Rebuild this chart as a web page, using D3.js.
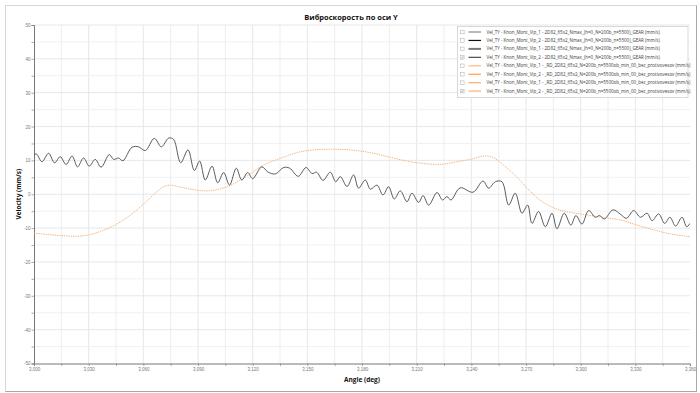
<!DOCTYPE html>
<html>
<head>
<meta charset="utf-8">
<script src="https://cdn.jsdelivr.net/npm/d3@7"></script>
<style>
  html, body { margin: 0; padding: 0; background: #fff; }
  svg { display: block; font-family: "Open Sans", "DejaVu Sans", sans-serif; }
</style>
</head>
<body>
<svg id="chart" width="700" height="393"></svg>
<script>
// ── Data ──────────────────────────────────────────────────────────────────────

const chartTitle = 'Виброскорость по оси Y';
const xTitle = 'Angle (deg)';
const yTitle = 'Velocity (mm/s)';

const xTicks = [3000, 3030, 3060, 3090, 3120, 3150, 3180, 3210, 3240, 3270, 3300, 3330, 3360];
const yTicks = [50, 40, 30, 20, 10, 0, -10, -20, -30, -40, -50];

// Vel_TY - Vip_2 GEAR (dark, checked)
const gearAngle = [3000, 3001.3, 3004.4, 3008.0, 3011.3, 3014.4, 3017.6, 3020.9, 3023.9, 3027.2,
  3030.3, 3033.6, 3036.8, 3041.3, 3043.7, 3046.4, 3048.8, 3053.8, 3057.4, 3061.1,
  3066.0, 3069.9, 3073.9, 3076.6, 3080.5, 3084.5, 3088.0, 3090.9, 3094.0, 3097.7,
  3100.8, 3104.1, 3107.3, 3111.0, 3114.0, 3117.3, 3120.0, 3125.0, 3128.3, 3132.4,
  3137.0, 3140.3, 3145.0, 3149.3, 3152.6, 3155.1, 3158.6, 3162.6, 3165.6, 3168.1,
  3171.8, 3175.4, 3178.1, 3181.8, 3184.6, 3188.2, 3191.5, 3194.6, 3197.7, 3201.0,
  3204.7, 3207.4, 3211.1, 3213.5, 3216.6, 3221.2, 3224.2, 3226.6, 3228.8, 3233.9,
  3240.9, 3246.4, 3249.5, 3253.2, 3256.8, 3260.5, 3264.1, 3267.8, 3270.9, 3273.3,
  3276.9, 3280.6, 3284.3, 3287.0, 3291.0, 3294.6, 3297.4, 3300.7, 3304.4, 3308.0,
  3310.4, 3313.0, 3317.8, 3321.8, 3325.1, 3329.1, 3332.8, 3336.4, 3339.2, 3342.8,
  3346.1, 3349.0, 3352.1, 3355.6, 3358.2, 3360];
const gearVel = [11.6, 11.9, 9.6, 12.1, 9.3, 11.1, 8.8, 11.3, 8.1, 10.7,
  8.3, 10.3, 8.0, 11.7, 10.3, 10.7, 9.9, 13.9, 14.0, 12.9,
  16.5, 14.0, 16.6, 16.2, 9.3, 13.1, 7.0, 9.8, 4.2, 8.3,
  3.4, 6.4, 2.7, 7.7, 4.2, 6.4, 4.6, 8.1, 6.6, 6.0,
  7.9, 7.7, 5.3, 7.9, 6.1, 6.5, 4.1, 6.5, 3.7, 5.2,
  2.3, 5.7, 1.8, 4.2, 1.5, 2.7, -0.2, 2.2, -1.4, 1.0,
  -2.2, 0.3, -2.4, -0.4, -3.2, 0.5, -1.7, -0.7, -1.7, 1.9,
  0.6, 3.9, 1.8, 3.7, 3.7, -3.2, 0.3, -5.6, -3.2, -8.6,
  -5.1, -9.6, -5.6, -10.2, -5.6, -9.1, -6.3, -8.8, -4.8, -6.8,
  -6.3, -7.3, -4.6, -5.9, -7.1, -4.8, -6.8, -5.6, -7.8, -5.8,
  -8.6, -6.8, -9.4, -6.8, -9.6, -8.6];

// Vel_TY - Vip_2 _RD (pale orange, checked)
const rdAngle = [3000, 3014.4, 3023.6, 3029.4, 3036.4, 3044.8, 3053.0, 3060.1, 3067.5, 3071.1,
  3074.8, 3083.0, 3094.9, 3105.9, 3113.2, 3116.9, 3126.0, 3135.2, 3144.3, 3153.4,
  3164.4, 3173.6, 3184.6, 3195.6, 3206.6, 3217.6, 3224.8, 3232.1, 3239.4, 3247.6,
  3252.2, 3257.7, 3265.1, 3272.4, 3279.7, 3287.0, 3294.6, 3303.5, 3312.6, 3321.8,
  3330.9, 3340.0, 3349.1, 3360];
const rdVel = [-11.5, -12.2, -12.4, -12.1, -11.0, -9.0, -6.1, -2.9, 0.8, 2.2,
  2.7, 1.8, 1.0, 2.2, 4.2, 5.4, 8.6, 10.6, 12.3, 13.1,
  13.3, 13.1, 12.3, 10.9, 9.6, 8.9, 8.9, 9.6, 10.3, 11.3,
  10.8, 8.6, 5.0, 0.8, -2.5, -4.4, -5.4, -6.1, -6.9, -7.6,
  -9.1, -10.5, -11.7, -12.5];

const legendNames = [
  'Vel_TY - Knon_Mont_Vip_1 - 2D82_65x2_Nmax_(h=0_N=200b_n=5500)_GEAR (mm/s)',
  'Vel_TY - Knon_Mont_Vip_2 - 2D82_65x2_Nmax_(h=0_N=200b_n=5500)_GEAR (mm/s)',
  'Vel_TY - Knon_Mont_Vip_1 - 2D82_65x2_Nmax_(h=0_N=200b_n=5500)_GEAR (mm/s)',
  'Vel_TY - Knon_Mont_Vip_2 - 2D82_65x2_Nmax_(h=0_N=200b_n=5500)_GEAR (mm/s)',
  'Vel_TY - Knon_Mont_Vip_1 - _RD_2D82_65x2_N=200b_n=5500ob_min_00_bez_protivovesov (mm/s)',
  'Vel_TY - Knon_Mont_Vip_2 - _RD_2D82_65x2_N=200b_n=5500ob_min_00_bez_protivovesov (mm/s)',
  'Vel_TY - Knon_Mont_Vip_1 - _RD_2D82_65x2_N=200b_n=5500ob_min_00_bez_protivovesov (mm/s)',
  'Vel_TY - Knon_Mont_Vip_2 - _RD_2D82_65x2_N=200b_n=5500ob_min_00_bez_protivovesov (mm/s)'
];
const legendChecked = [false, false, false, true, false, false, false, true];
const legendColors = ['#8a8a8a', '#111111', '#7a7a7a', '#4a4a4a', '#ffb77a', '#ff9d45', '#ffaa66', '#f7cfae'];
const legendWidths = [1.2, 1.2, 2, 1.2, 1.2, 1.2, 1.2, 2];

// ── Layout ────────────────────────────────────────────────────────────────────

const svg = d3.select('#chart');
const plot = { left: 34, right: 690, top: 25, bottom: 363.5 };

const x = d3.scaleLinear().domain([3000, 3360]).range([plot.left, plot.right]);
const y = d3.scaleLinear().domain([-50, 50]).range([plot.bottom, plot.top]);

// outer frame
svg.append('rect')
  .attr('x', 5.5).attr('y', 5.5).attr('width', 691).attr('height', 386)
  .attr('fill', '#fff').attr('stroke', '#d6d6d6');
svg.append('path')
  .attr('d', 'M5.5,391.5H696.5V5.5')
  .attr('fill', 'none').attr('stroke', '#a8a8a8');

// ── Grid ──────────────────────────────────────────────────────────────────────

const gridG = svg.append('g');
gridG.selectAll('.vg')
  .data(d3.range(3015, 3360, 15))
  .join('line')
  .attr('x1', d => x(d)).attr('x2', d => x(d))
  .attr('y1', plot.top).attr('y2', plot.bottom)
  .attr('stroke', d => d % 30 === 0 ? '#e4e4e4' : '#ececec')
  .attr('stroke-width', 0.9);
gridG.selectAll('.hg')
  .data(d3.range(-45, 55, 5))
  .join('line')
  .attr('x1', plot.left).attr('x2', plot.right)
  .attr('y1', d => y(d)).attr('y2', d => y(d))
  .attr('stroke', d => d % 10 === 0 ? '#e4e4e4' : '#efefef')
  .attr('stroke-width', 0.9);

// ── Axes ──────────────────────────────────────────────────────────────────────

const xAxis = d3.axisBottom(x)
  .tickValues(d3.range(3000, 3361, 15))
  .tickSize(2.5)
  .tickFormat(d => xTicks.includes(d) ? d3.format(',')(d) : '');
const yAxis = d3.axisLeft(y)
  .tickValues(d3.range(-50, 51, 5))
  .tickSize(2.5)
  .tickFormat(d => yTicks.includes(d) ? d : '');

const gx = svg.append('g').attr('transform', `translate(0,${plot.bottom})`).call(xAxis);
const gy = svg.append('g').attr('transform', `translate(${plot.left},0)`).call(yAxis);

[gx, gy].forEach(ax => {
  ax.select('.domain').attr('stroke', '#777').attr('stroke-width', 1);
  ax.selectAll('.tick line').attr('stroke', '#888').attr('stroke-width', 0.7);
  ax.selectAll('.tick text').attr('fill', '#777').attr('font-size', 4.5);
});
gx.selectAll('.tick text').attr('dy', '0.9em').attr('y', 3.5);
gy.selectAll('.tick text').attr('x', -3.5);

// titles
svg.append('text')
  .attr('x', 351).attr('y', 20)
  .attr('text-anchor', 'middle')
  .attr('font-size', 7.5).attr('font-weight', 'bold').attr('fill', '#111')
  .text(chartTitle);

svg.append('text')
  .attr('x', 362).attr('y', 382)
  .attr('text-anchor', 'middle')
  .attr('font-size', 6.5).attr('font-weight', 'bold').attr('fill', '#111')
  .text(xTitle);

svg.append('text')
  .attr('transform', `translate(21,${(plot.top + plot.bottom) / 2}) rotate(-90)`)
  .attr('text-anchor', 'middle')
  .attr('font-size', 6.5).attr('font-weight', 'bold').attr('fill', '#111')
  .text(yTitle);

// ── Series ────────────────────────────────────────────────────────────────────

svg.append('clipPath').attr('id', 'plot-clip')
  .append('rect')
  .attr('x', plot.left).attr('y', plot.top)
  .attr('width', plot.right - plot.left).attr('height', plot.bottom - plot.top);

const line = d3.line()
  .x(d => x(d[0]))
  .y(d => y(d[1]))
  .curve(d3.curveCatmullRom.alpha(0.5));

const seriesG = svg.append('g').attr('clip-path', 'url(#plot-clip)');

seriesG.append('path')
  .datum(d3.zip(rdAngle, rdVel))
  .attr('d', line)
  .attr('fill', 'none')
  .attr('stroke', '#f8b47c')
  .attr('stroke-width', 1)
  .attr('stroke-dasharray', '1.4,0.9');

seriesG.append('path')
  .datum(d3.zip(gearAngle, gearVel))
  .attr('d', line)
  .attr('fill', 'none')
  .attr('stroke', '#4a4a4a')
  .attr('stroke-width', 0.9);

// ── Legend ────────────────────────────────────────────────────────────────────

const legend = svg.append('g');
legend.append('rect')
  .attr('x', 457.5).attr('y', 26.5).attr('width', 230.5).attr('height', 71)
  .attr('fill', '#fff').attr('stroke', '#cfcfcf').attr('stroke-width', 0.8);

const rowY = i => 32 + i * 8.45;

const rows = legend.selectAll('.lg-row')
  .data(legendNames)
  .join('g')
  .attr('transform', (d, i) => `translate(0,${rowY(i)})`);

rows.append('rect')
  .attr('x', 460.5).attr('y', -1.8).attr('width', 3.6).attr('height', 3.6)
  .attr('fill', '#fff').attr('stroke', '#aaa').attr('stroke-width', 0.5);

rows.filter((d, i) => legendChecked[i])
  .append('path')
  .attr('d', 'M461.3,0 L462.1,1 L463.4,-1.1')
  .attr('fill', 'none').attr('stroke', '#777').attr('stroke-width', 0.5);

rows.append('line')
  .attr('x1', 468.5).attr('x2', 481)
  .attr('y1', 0).attr('y2', 0)
  .attr('stroke', (d, i) => legendColors[i])
  .attr('stroke-width', (d, i) => legendWidths[i]);

rows.append('text')
  .attr('x', 486.5).attr('y', 0)
  .attr('dy', '0.35em')
  .attr('font-size', 4.5).attr('fill', '#3a3a3a')
  .text(d => d);
</script>
</body>
</html>
